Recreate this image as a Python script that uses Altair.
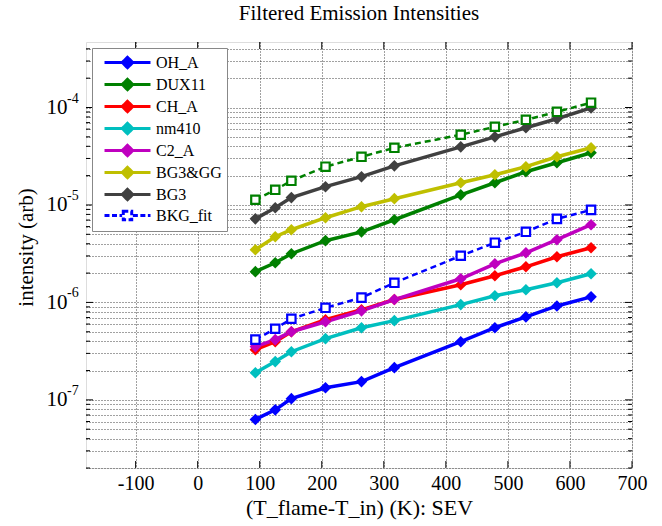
import altair as alt
import pandas as pd

# ---------------- data ----------------
x_vals = [93, 125, 151, 206, 264, 317, 424, 479, 529, 579, 634]

oh_a = [6.3e-8, 7.9e-8, 1.03e-7, 1.33e-7, 1.54e-7, 2.14e-7, 3.95e-7, 5.5e-7, 7.1e-7, 9.2e-7, 1.14e-6]
dux11 = [2.07e-6, 2.55e-6, 3.16e-6, 4.3e-6, 5.3e-6, 7.05e-6, 1.27e-5, 1.69e-5, 2.19e-5, 2.71e-5, 3.43e-5]
ch_a = [3.27e-7, 3.96e-7, 5.0e-7, 6.65e-7, 8.4e-7, 1.07e-6, 1.52e-6, 1.88e-6, 2.32e-6, 2.94e-6, 3.64e-6]
nm410 = [1.9e-7, 2.47e-7, 3.12e-7, 4.25e-7, 5.5e-7, 6.5e-7, 9.5e-7, 1.17e-6, 1.35e-6, 1.59e-6, 1.97e-6]
c2_a = [3.52e-7, 4.15e-7, 5.0e-7, 6.34e-7, 8.2e-7, 1.07e-6, 1.75e-6, 2.49e-6, 3.23e-6, 4.4e-6, 6.27e-6]
bg3gg = [3.47e-6, 4.72e-6, 5.57e-6, 7.4e-6, 9.6e-6, 1.16e-5, 1.69e-5, 2.04e-5, 2.47e-5, 3.12e-5, 3.86e-5]
bg3 = [7.2e-6, 9.35e-6, 1.19e-5, 1.54e-5, 1.95e-5, 2.52e-5, 3.95e-5, 5.0e-5, 6.2e-5, 7.66e-5, 9.9e-5]
bkg_fit = [4.15e-7, 5.37e-7, 6.8e-7, 8.8e-7, 1.12e-6, 1.59e-6, 3.01e-6, 4.1e-6, 5.3e-6, 7.2e-6, 8.9e-6]
dux11_bkg = [1.13e-5, 1.43e-5, 1.77e-5, 2.47e-5, 3.12e-5, 3.86e-5, 5.25e-5, 6.34e-5, 7.48e-5, 9.03e-5, 1.12e-4]

names = ["OH_A", "DUX11", "CH_A", "nm410", "C2_A", "BG3&GG", "BG3", "BKG_fit", "DUX11_bkg"]
series = [oh_a, dux11, ch_a, nm410, c2_a, bg3gg, bg3, bkg_fit, dux11_bkg]
colors = ["#0000FF", "#008000", "#FF0000", "#00BFBF", "#BF00BF", "#BFBF00", "#404040", "#0000FF", "#008000"]
legend_names = names[:8]
solid_names = names[:7]
dashed_names = ["BKG_fit", "DUX11_bkg"]

x_ticks = [-100, 0, 100, 200, 300, 400, 500, 600, 700]
y_major = [1e-7, 1e-6, 1e-5, 1e-4]
y_exps = ["-7", "-6", "-5", "-4"]
y_minor = [k * 10.0 ** e for e in range(-8, -3) for k in range(2, 10)
           if 2e-8 <= k * 10.0 ** e <= 4.7e-4]

rows = []
for n, ys in zip(names, series):
    for xv, yv in zip(x_vals, ys):
        rows.append({"series": n, "x": xv, "y": yv})
df = pd.DataFrame(rows)

# ---------------- layout ----------------
W, H = 546, 426
FONT = "Liberation Serif"

xscale = alt.Scale(domain=[-180, 700], nice=False, zero=False)
yscale = alt.Scale(type="log", domain=[2e-8, 4.7e-4], nice=False)

# legend symbol paths (unit = sqrt(symbolSize)/2 px)
sym_solid = "M-3,0L3,0M0,-0.68L0.68,0L0,0.68L-0.68,0Z"
sym_dash = "M-3,0L-0.7,0M0.7,0L3,0M-0.55,-0.55L0.55,-0.55L0.55,0.55L-0.55,0.55Z"
leg_shapes = [sym_solid] * 7 + [sym_dash]
leg_fills = colors[:7] + ["#FFFFFF"]
leg_dashes = [[1, 0]] * 7 + [[5, 2.5]]

leg_kw = dict(
    title=None, orient="none", legendX=6, legendY=6,
    padding=5, symbolOffset=21, labelOffset=19, rowPadding=-1,
    symbolSize=235, symbolStrokeWidth=3, symbolOpacity=1,
    labelFont=FONT, labelFontSize=16, labelColor="black",
    fillColor="white", strokeColor="#888888",
)

color_nl = alt.Color("series:N", scale=alt.Scale(domain=names, range=colors), legend=None)

x_axis = alt.Axis(
    values=x_ticks, labelExpr="datum.value + ''", title="(T_flame-T_in) (K): SEV",
    ticks=False, domain=False, grid=True, gridDash=[1, 2], gridColor="#222222", gridOpacity=0.85,
    labelFont=FONT, labelFontSize=20, labelPadding=5, labelColor="black",
    labelFlush=False, labelOverlap=False,
    titleFont=FONT, titleFontSize=22, titleFontWeight="normal", titleColor="black",
    titleY=46, titleBaseline="alphabetic",
)
y_axis = alt.Axis(
    values=sorted(y_major + y_minor),
    labelExpr="abs(log(datum.value)/LN10 - round(log(datum.value)/LN10)) < 1e-6 ? '10' : ''",
    title="intensity (arb)",
    ticks=False, domain=False, grid=True, gridDash=[1, 2], gridColor="#222222", gridOpacity=0.85,
    labelFont=FONT, labelFontSize=21, labelPadding=19, labelColor="black", labelOverlap=False,
    titleFont=FONT, titleFontSize=21, titleFontWeight="normal", titleColor="black",
    titleAngle=270, titleX=-54, titleY=205, titleBaseline="alphabetic", titleAlign="center",
)

base = alt.Chart(df)
X = alt.X("x:Q", scale=xscale, axis=x_axis)
Y = alt.Y("y:Q", scale=yscale, axis=y_axis)

solid_lines = base.transform_filter(
    alt.FieldOneOfPredicate(field="series", oneOf=solid_names)
).mark_line(strokeWidth=3.5).encode(x=X, y=Y, color=color_nl)

diamonds = base.transform_filter(
    alt.FieldOneOfPredicate(field="series", oneOf=solid_names)
).mark_point(shape="diamond", filled=True, size=135, opacity=1).encode(x=X, y=Y, color=color_nl)

dashed_lines = base.transform_filter(
    alt.FieldOneOfPredicate(field="series", oneOf=dashed_names)
).mark_line(strokeWidth=2.5, strokeDash=[6, 4]).encode(x=X, y=Y, color=color_nl)

squares = base.transform_filter(
    alt.FieldOneOfPredicate(field="series", oneOf=dashed_names)
).mark_point(shape="square", filled=False, fill="white", fillOpacity=1, size=70,
             strokeWidth=2.2, opacity=1).encode(x=X, y=Y, color=color_nl)

# legend-only layer (no rows drawn); its scales build the merged legend
legend_layer = base.transform_filter("false").mark_point(filled=True).encode(
    x=X, y=Y,
    fill=alt.Fill("series:N", scale=alt.Scale(domain=legend_names, range=leg_fills), legend=alt.Legend(**leg_kw)),
    stroke=alt.Stroke("series:N", scale=alt.Scale(domain=legend_names, range=colors[:8]), legend=alt.Legend(**leg_kw)),
    shape=alt.Shape("series:N", scale=alt.Scale(domain=legend_names, range=leg_shapes), legend=alt.Legend(**leg_kw)),
    strokeDash=alt.StrokeDash("series:N", scale=alt.Scale(domain=legend_names, range=leg_dashes), legend=alt.Legend(**leg_kw)),
)

# exponent text next to the "10" labels
exp_df = pd.DataFrame({"y": y_major, "lab": y_exps})
exponents = alt.Chart(exp_df).mark_text(
    align="left", baseline="alphabetic", dy=-5, font=FONT, fontSize=14, color="black"
).encode(x=alt.value(-19), y=Y, text="lab:N")

# inward tick marks
ymaj_df = pd.DataFrame({"y": y_major})
ymin_df = pd.DataFrame({"y": y_minor})
xt_df = pd.DataFrame({"x": x_ticks})
tk = dict(color="black", strokeWidth=1)
ticks = [
    alt.Chart(ymaj_df).mark_rule(**tk).encode(y=Y, x=alt.value(0), x2=alt.value(7)),
    alt.Chart(ymaj_df).mark_rule(**tk).encode(y=Y, x=alt.value(W - 7), x2=alt.value(W)),
    alt.Chart(ymin_df).mark_rule(**tk).encode(y=Y, x=alt.value(0), x2=alt.value(4)),
    alt.Chart(ymin_df).mark_rule(**tk).encode(y=Y, x=alt.value(W - 4), x2=alt.value(W)),
    alt.Chart(xt_df).mark_rule(**tk).encode(x=X, y=alt.value(H - 7), y2=alt.value(H)),
    alt.Chart(xt_df).mark_rule(**tk).encode(x=X, y=alt.value(0), y2=alt.value(7)),
]

chart = alt.layer(
    solid_lines, diamonds, dashed_lines, squares, exponents, *ticks, legend_layer
).properties(
    width=W, height=H,
    title=alt.Title("Filtered Emission Intensities", font=FONT, fontSize=21,
                    fontWeight="normal", color="black", anchor="middle", offset=14),
    autosize=alt.AutoSizeParams(type="none"),
    padding={"left": 86, "top": 42, "right": 30, "bottom": 58},
).configure_view(stroke="black", strokeWidth=2).configure(background="white")

chart.save("out.html", embed_options={"renderer": "svg", "actions": False})
